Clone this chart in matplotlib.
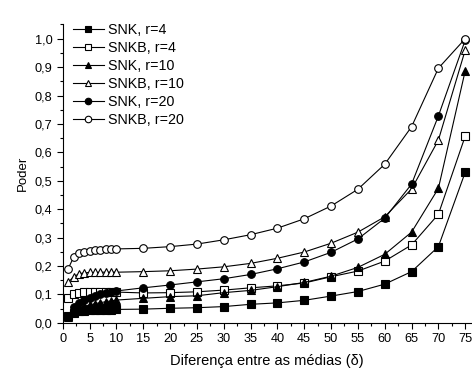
import matplotlib
matplotlib.use("Agg")
from matplotlib import pyplot as plt
from matplotlib.ticker import MultipleLocator, FuncFormatter

plt.rcParams['font.family'] = ['Liberation Sans', 'DejaVu Sans']

x = [1, 2, 3, 4, 5, 6, 7, 8, 9, 10, 15, 20, 25, 30, 35, 40, 45, 50, 55, 60, 65, 70, 75]

snk_r4 = [0.024, 0.035, 0.040, 0.042, 0.044, 0.045, 0.045, 0.046, 0.046, 0.047,
          0.048, 0.051, 0.053, 0.057, 0.065, 0.070, 0.079, 0.094, 0.110, 0.136,
          0.180, 0.268, 0.530]
snkb_r4 = [0.086, 0.102, 0.106, 0.107, 0.107, 0.108, 0.108, 0.108, 0.108, 0.108,
           0.105, 0.106, 0.109, 0.115, 0.123, 0.130, 0.140, 0.162, 0.182, 0.217,
           0.274, 0.382, 0.657]
snk_r10 = [0.020, 0.040, 0.050, 0.058, 0.063, 0.067, 0.071, 0.074, 0.077, 0.080,
           0.086, 0.092, 0.095, 0.106, 0.114, 0.127, 0.142, 0.164, 0.195, 0.241,
           0.319, 0.473, 0.887]
snkb_r10 = [0.142, 0.162, 0.172, 0.176, 0.177, 0.177, 0.178, 0.178, 0.178, 0.178,
            0.180, 0.183, 0.189, 0.197, 0.209, 0.227, 0.249, 0.280, 0.319, 0.373,
            0.471, 0.643, 0.960]
snk_r20 = [0.025, 0.055, 0.070, 0.080, 0.088, 0.095, 0.100, 0.104, 0.108, 0.112,
           0.123, 0.133, 0.144, 0.155, 0.170, 0.190, 0.214, 0.248, 0.295, 0.368,
           0.488, 0.728, 0.995]
snkb_r20 = [0.190, 0.230, 0.244, 0.250, 0.254, 0.256, 0.257, 0.258, 0.259, 0.260,
            0.262, 0.268, 0.277, 0.292, 0.310, 0.333, 0.366, 0.411, 0.470, 0.558,
            0.690, 0.896, 1.000]

series = [
    ("SNK, r=4", snk_r4, 's', 'black'),
    ("SNKB, r=4", snkb_r4, 's', 'white'),
    ("SNK, r=10", snk_r10, '^', 'black'),
    ("SNKB, r=10", snkb_r10, '^', 'white'),
    ("SNK, r=20", snk_r20, 'o', 'black'),
    ("SNKB, r=20", snkb_r20, 'o', 'white'),
]

fig = plt.figure(figsize=(4.72, 3.71), dpi=100)
ax = fig.add_axes([0.133, 0.130, 0.864, 0.804])

for label, y, m, fc in series:
    ax.plot(x, y, marker=m, color='black', markerfacecolor=fc, markeredgecolor='black',
            markersize=5.5, linewidth=0.8, markeredgewidth=0.8, label=label)

ax.set_xlim(0, 76)
ax.set_ylim(0, 1.05)
ax.xaxis.set_major_locator(MultipleLocator(5))
ax.xaxis.set_minor_locator(MultipleLocator(2.5))
ax.yaxis.set_major_locator(MultipleLocator(0.1))
ax.yaxis.set_minor_locator(MultipleLocator(0.05))
ax.yaxis.set_major_formatter(FuncFormatter(lambda v, p: ("%.1f" % v).replace('.', ',')))

for s in ['top', 'right']:
    ax.spines[s].set_visible(False)
ax.tick_params(which='major', direction='out', length=4, width=0.8, labelsize=9.2)
ax.tick_params(which='minor', direction='out', length=2.5, width=0.8)

ax.set_xlabel("Diferença entre as médias (δ)", fontsize=10.5, labelpad=6)
ax.set_ylabel("Poder", fontsize=9.5)

ax.legend(loc='upper left', frameon=False, fontsize=10.3, handlelength=2.2,
          handletextpad=0.3, labelspacing=0.28, borderaxespad=0.0,
          markerscale=0.85, bbox_to_anchor=(0.01, 1.023))

fig.savefig("out.png", dpi=100)
